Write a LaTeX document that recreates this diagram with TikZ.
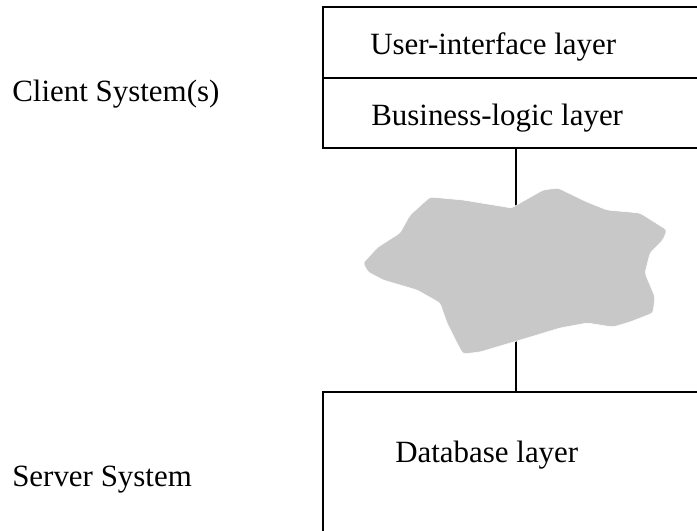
\documentclass[tikz,border=0pt]{standalone}
\usepackage{fontspec}
\setmainfont{Liberation Serif}
\definecolor{cloudgray}{RGB}{200,200,200}
\tikzset{
    layer/.style={draw, line width=1.9pt, inner sep=0pt, outer sep=0pt, minimum width=9.65cm},
    label/.style={anchor=base west, inner sep=0pt, font=\fontsize{22}{26}\selectfont}
}
\begin{document}
\begin{tikzpicture}[x=0.025cm, y=-0.025cm]
    \clip (0,0) rectangle (697,531);
    % client side, boxes run off the right edge
    \node[layer, minimum height=1.775cm, anchor=north west] (ui) at (323,7) {};
    \node[layer, minimum height=1.75cm, anchor=north] (logic) at (ui.south) {};
    \node[layer, minimum height=5cm, anchor=north west] (db) at (323,392) {}; % server
    \draw[line width=1.4pt] (logic.south) -- (db.north);
    % network cloud over the link
    \fill[cloudgray, draw=white, line width=0.4pt, rounded corners=2pt]
        (363,263) -- (378,247) -- (400,233) -- (410,215) -- (430,197) -- (463,200)
        -- (512,208) -- (520,203) -- (543,190) -- (558,188) -- (587,202) -- (607,210)
        -- (640,213) -- (667,230) -- (663,240) -- (650,253) -- (645,273) -- (655,297)
        -- (653,313) -- (630,322) -- (613,327) -- (587,323) -- (560,328) -- (527,338)
        -- (480,352) -- (463,354) -- (457,343) -- (447,323) -- (440,303) -- (417,290)
        -- (383,280) -- (368,272) -- cycle;
    \node[label] (uitext) at (370,55) {User-interface layer};
    \node[label] (logictext) at (371,126) {Business-logic layer};
    \node[label] (dbtext) at (395,462) {Database layer};
    \node[label] (client) at (12,102) {Client System(s)};
    \node[label] (server) at (12,486) {Server System};
\end{tikzpicture}
\end{document}
